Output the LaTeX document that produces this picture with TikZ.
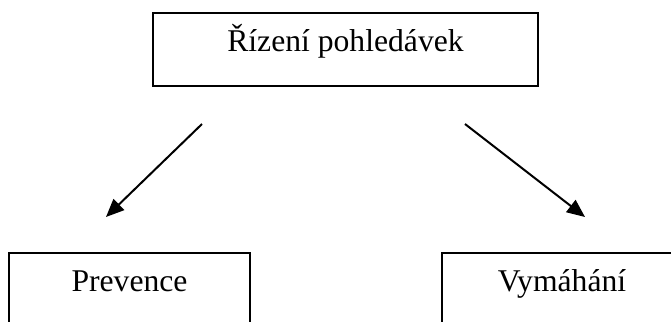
\documentclass[tikz,border=0pt]{standalone}
\usepackage{fontspec}
\setmainfont{Liberation Serif}
\usetikzlibrary{arrows.meta, positioning, calc}
\tikzset{
  cajaBase/.style={
    draw=black, line width=0.05cm,
    minimum height=1.825cm,
    align=center, font=\fontsize{22.5}{27}\selectfont,
    text height=0.6em, text depth=0.25em,
    fill=white
  },
  flecha/.style={-{Triangle[length=0.45cm, width=0.38cm]}, line width=0.05cm, black},
}
\begin{document}
\begin{tikzpicture}[x=0.025cm, y=0.025cm]
    \useasboundingbox (0,0) rectangle (671,322);
    \clip (0,0) rectangle (671,322);
    \node[cajaBase, minimum width=9.625cm] (rizeni) at (345.5,272.5) {Řízení pohledávek};
    \node[cajaBase, minimum width=6.025cm] (prevence) at (129.5,32.5) {Prevence};
    \node[cajaBase, minimum width=6cm] (vymahani) at (562,32.5) {Vymáhání};
    \draw[flecha] ($(rizeni.south)+(-143.5,-37)$) -- ($(prevence.north)+(-23.5,35)$);
    \draw[flecha] ($(rizeni.south)+(119.5,-37)$) -- ($(vymahani.north)+(23,35)$);
  \end{tikzpicture}
\end{document}
